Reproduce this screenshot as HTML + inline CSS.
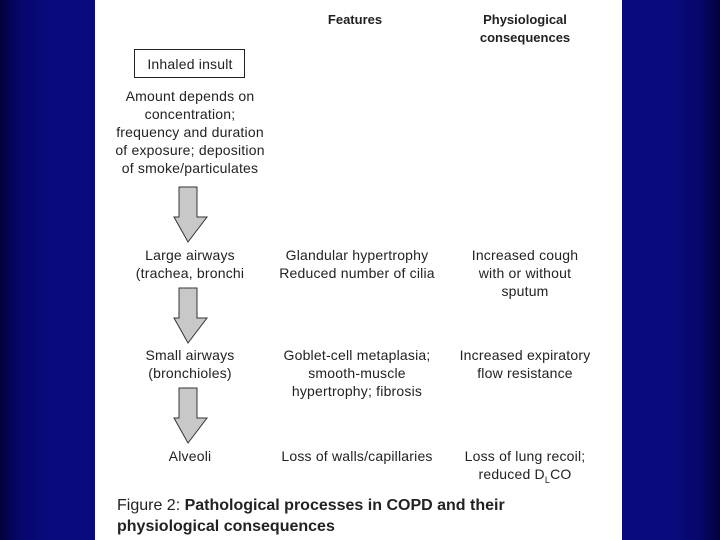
<!DOCTYPE html>
<html><head><style>
body{margin:0;width:720px;height:540px;overflow:hidden;background:linear-gradient(90deg,#02023c 0%,#07076e 3%,#0a0a7e 7%,#0a0a7e 93%,#07076e 97%,#02023c 100%);font-family:"Liberation Sans",sans-serif;position:relative}
#p{position:absolute;left:95px;top:0;width:527px;height:540px;background:#fff}
.t{position:absolute;font-size:14px;letter-spacing:0.2px;color:#222;text-align:center;line-height:18px;white-space:nowrap;transform:translateX(-50%)}
.b{font-weight:bold;font-size:13px;letter-spacing:0}
</style></head><body>
<div id="p"></div>
<div class="t b" style="left:355px;top:11px">Features</div>
<div class="t b" style="left:525px;top:11px">Physiological<br>consequences</div>
<div style="position:absolute;left:134px;top:49px;width:111px;height:29px;border:1px solid #222;box-sizing:border-box"></div>
<div class="t" style="left:190px;top:55px">Inhaled insult</div>
<div class="t" style="left:190px;top:87px">Amount depends on<br>concentration;<br>frequency and duration<br>of exposure; deposition<br>of smoke/particulates</div>
<svg style="position:absolute;left:0;top:0" width="720" height="540">
<g fill="#c8c8c8" stroke="#333" stroke-width="1">
<polygon points="179,187 197,187 197,217 207,217 188,242 174,217 179,217" />
<polygon points="179,288 197,288 197,318 207,318 188,343 174,318 179,318" />
<polygon points="179,388 197,388 197,418 207,418 188,443 174,418 179,418" />
</g></svg>
<div class="t" style="left:190px;top:246px">Large airways<br>(trachea, bronchi</div>
<div class="t" style="left:357px;top:246px">Glandular hypertrophy<br>Reduced number of cilia</div>
<div class="t" style="left:525px;top:246px">Increased cough<br>with or without<br>sputum</div>
<div class="t" style="left:190px;top:346px">Small airways<br>(bronchioles)</div>
<div class="t" style="left:357px;top:346px">Goblet-cell metaplasia;<br>smooth-muscle<br>hypertrophy; fibrosis</div>
<div class="t" style="left:525px;top:346px">Increased expiratory<br>flow resistance</div>
<div class="t" style="left:190px;top:447px">Alveoli</div>
<div class="t" style="left:357px;top:447px">Loss of walls/capillaries</div>
<div class="t" style="left:525px;top:447px">Loss of lung recoil;<br>reduced D<sub style="font-size:9px;line-height:0">L</sub>CO</div>
<div style="position:absolute;left:117px;top:495px;font-size:16px;line-height:21px;color:#222">Figure 2: <b>Pathological processes in COPD and their<br>physiological consequences</b></div>
</body></html>
